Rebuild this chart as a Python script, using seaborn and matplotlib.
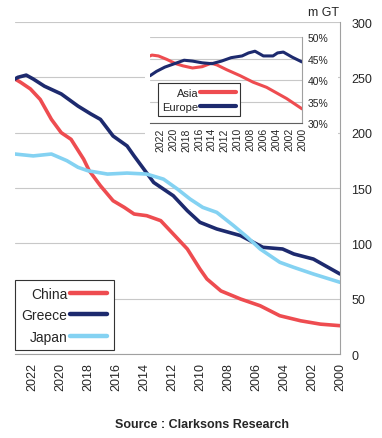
import numpy as np
import pandas as pd
import matplotlib
matplotlib.use("Agg")
import matplotlib.pyplot as plt
import seaborn as sns
from matplotlib.patches import Rectangle
from matplotlib.ticker import FuncFormatter

# Step 1: Style
sns.set_style("white")
plt.rcParams["font.family"] = ["Liberation Sans", "DejaVu Sans"]

# Step 2: Data
china_years = [2000, 2001.4, 2002.8, 2004.3, 2005.7, 2007.1, 2008.5, 2009.5, 2010, 2010.9,
               2011.9, 2012.8, 2013.8, 2014.7, 2015.4, 2016.2, 2017.1, 2017.9, 2018.3,
               2019.2, 2019.9, 2020.6, 2021.4, 2022.1, 2022.8, 2023.2]
china_gt = [25.6, 27, 30, 34.6, 43.6, 49.7, 57, 67.8, 76.8, 94.9,
            108.4, 120.5, 125, 126.5, 132.5, 138.5, 152, 165.6, 176,
            194, 200, 212, 230, 239.5, 245.5, 248.5]

greece_years = [2000, 2001.9, 2003.3, 2004.1, 2005.5, 2007.1, 2008.8, 2010, 2010.9, 2011.9,
                2013.3, 2014, 2014.7, 2015.2, 2016.2, 2017.1, 2017.8, 2018.7, 2019.9,
                2021.1, 2021.9, 2022.4, 2023, 2023.2]
greece_gt = [72.3, 85.8, 90.4, 94.9, 96.4, 107, 113, 119, 129.5, 143,
             155, 167, 179, 188, 197, 212, 217, 224, 235,
             242, 248.5, 252, 250, 248.5]

japan_years = [2000, 2001.9, 2003.3, 2004.3, 2005.7, 2006.6, 2007.6, 2008.8, 2009.8, 2010.7,
               2011.6, 2012.6, 2013.8, 2015.2, 2016.6, 2018, 2018.7, 2019.5, 2020.6,
               2021.9, 2023.2]
japan_gt = [64.8, 72.3, 78.3, 82.9, 94.9, 105.4, 116, 128, 132.5, 140,
            149, 158, 162.6, 163.5, 162.6, 165.6, 168.7, 174.7, 180.7,
            179, 180.7]

asia_years = [2000, 2002.4, 2005.5, 2007.6, 2009.6, 2011.7, 2013.2, 2014.1, 2015.5, 2017,
              2018.5, 2019.6, 2021, 2022.3, 2023.3, 2023.6]
asia_share = [33.3, 35.7, 38.3, 39.5, 41.0, 42.4, 43.5, 43.9, 43.1, 42.8,
              43.3, 43.8, 44.8, 45.6, 45.8, 45.6]

europe_years = [2000, 2001.5, 2002.9, 2003.8, 2004.5, 2006, 2007.3, 2008.3, 2009.3, 2011,
                2012.5, 2014, 2015.5, 2017, 2018.3, 2019.8, 2021.3, 2022.6, 2023.6]
europe_share = [44.2, 45.3, 46.5, 46.3, 45.6, 45.6, 46.7, 46.3, 45.6, 45.2,
                44.4, 43.8, 44.0, 44.4, 44.6, 43.8, 43.0, 42.0, 41.0]

year_ticks = list(range(2000, 2023, 2))
gt_ticks = [0, 50, 100, 150, 200, 250, 300]
share_ticks = [30, 35, 40, 45, 50]

red = "#EE4C50"
navy = "#1D2A6E"
sky = "#84D2F2"

# Step 3: Main chart
fig = plt.figure(figsize=(3.82, 4.39), dpi=100)
ax = fig.add_axes([0.0393, 0.1913, 0.8508, 0.7563])

sns.lineplot(x=china_years, y=china_gt, ax=ax, color=red, lw=2.6, label="China")
sns.lineplot(x=greece_years, y=greece_gt, ax=ax, color=navy, lw=2.6, label="Greece")
sns.lineplot(x=japan_years, y=japan_gt, ax=ax, color=sky, lw=2.6, label="Japan")

ax.set_xlim(2023.2, 2000)
ax.set_ylim(0, 300)
ax.set_xticks(year_ticks)
ax.set_xticklabels([str(y) for y in year_ticks], rotation=90, fontsize=9)
ax.set_yticks(gt_ticks)
ax.yaxis.tick_right()
ax.tick_params(axis="y", labelsize=9, length=0, pad=8)
ax.tick_params(axis="x", length=0, pad=6)
ax.grid(axis="y", color="#C8C8C8", lw=0.8)
ax.set_axisbelow(True)
for s in ["left", "top"]:
    ax.spines[s].set_visible(False)
for s in ["right", "bottom"]:
    ax.spines[s].set_color("#A0A0A0")
    ax.spines[s].set_linewidth(0.8)
ax.set_xlabel("")
ax.set_ylabel("")

leg = ax.legend(loc="lower left", bbox_to_anchor=(0, 0.012), borderaxespad=0,
                fontsize=10, markerfirst=False, handlelength=2.7, handletextpad=0.2,
                labelspacing=0.55, fancybox=False, framealpha=1, borderpad=0.45)
leg.get_frame().set_edgecolor("#333333")
leg.get_frame().set_linewidth(0.8)
for line in leg.get_lines():
    line.set_linewidth(3.2)

fig.text(339 / 382, 1 - 13 / 439, "m GT", ha="right", va="center", fontsize=9)
fig.text(202 / 382, 1 - 425 / 439, "Source : Clarksons Research", ha="center",
         va="center", fontsize=9, fontweight="bold")

# Step 4: Inset chart (share of fleet)
fig.patches.append(Rectangle((0.3796, 0.640), 0.505, 0.296, transform=fig.transFigure,
                             facecolor="white", edgecolor="none", zorder=0.5))
ins = fig.add_axes([0.3927, 0.7175, 0.3979, 0.1959], zorder=1)
sns.lineplot(x=asia_years, y=asia_share, ax=ins, color=red, lw=2.2, label="Asia")
sns.lineplot(x=europe_years, y=europe_share, ax=ins, color=navy, lw=2.2, label="Europe")

ins.set_xlim(2023.6, 2000)
ins.set_ylim(30, 50)
ins.set_xticks(year_ticks)
ins.set_xticklabels([str(y) for y in year_ticks], rotation=90, fontsize=7.5)
ins.set_yticks(share_ticks)
ins.yaxis.set_major_formatter(FuncFormatter(lambda v, p: f"{v:.0f}%"))
ins.yaxis.tick_right()
ins.tick_params(axis="y", labelsize=7.5, length=0, pad=4)
ins.tick_params(axis="x", length=0, pad=3)
ins.grid(axis="y", color="#C8C8C8", lw=0.8)
ins.set_axisbelow(True)
ins.spines["left"].set_visible(False)
ins.spines["top"].set_visible(False)
ins.spines["right"].set_color("#A0A0A0")
ins.spines["bottom"].set_color("#606060")
ins.set_xlabel("")
ins.set_ylabel("")

leg2 = ins.legend(loc="lower left", bbox_to_anchor=(0.05, 0.08), borderaxespad=0,
                  fontsize=8, markerfirst=False, handlelength=3.2, handletextpad=0.2,
                  labelspacing=0.35, fancybox=False, framealpha=1, borderpad=0.4)
leg2.get_frame().set_edgecolor("#333333")
leg2.get_frame().set_linewidth(0.8)
for line in leg2.get_lines():
    line.set_linewidth(3)

fig.savefig("out.png", dpi=100)
